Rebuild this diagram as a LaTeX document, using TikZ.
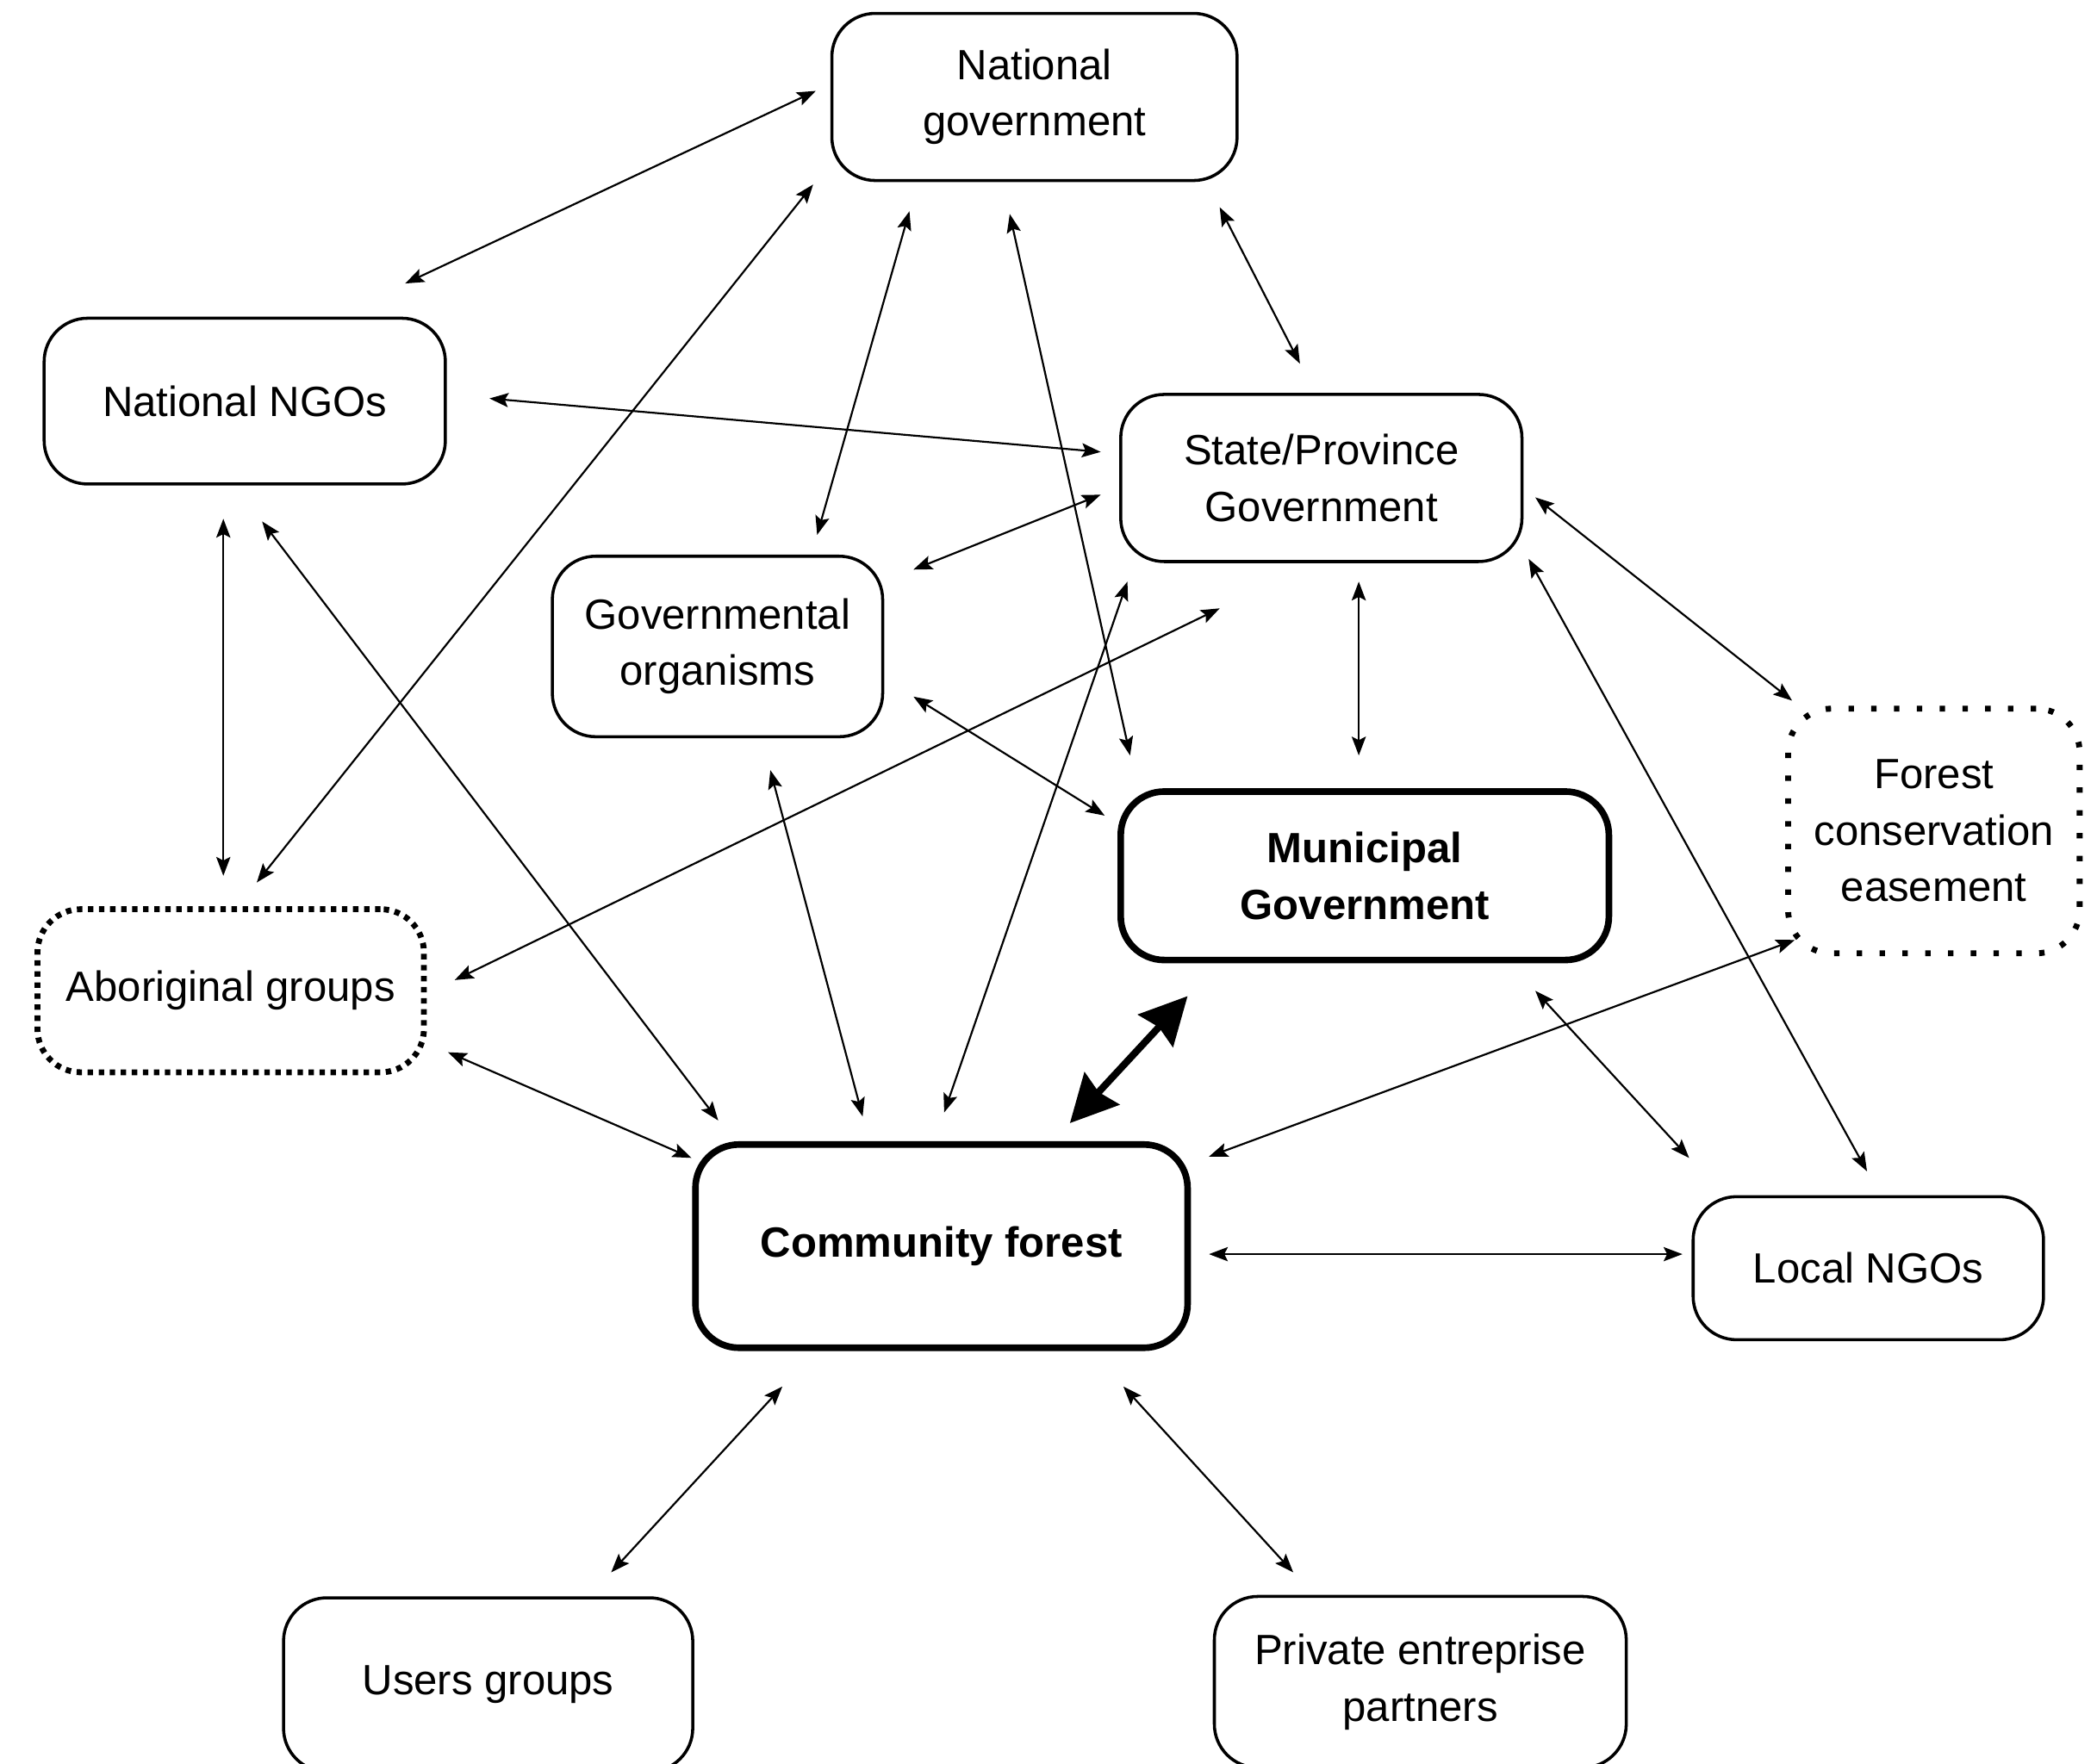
\documentclass[tikz,border=0pt]{standalone}
\usepackage{fontspec}
\setmainfont{Liberation Sans}
\usetikzlibrary{arrows.meta,calc}
\newcommand{\dfont}{\fontsize{18}{24}\selectfont}
\tikzset{
  box/.style={draw, rounded corners=0.65cm, line width=1.3pt, align=center, font=\dfont, inner sep=0pt},
  boldbox/.style={box, line width=2.8pt, font=\dfont\bfseries},
  dotbox/.style={box, line width=2.5pt, dash pattern=on 2.3pt off 2.4pt},
  sparsebox/.style={box, line width=2.5pt, dash pattern=on 2.3pt off 7.4pt},
  arr/.style={{Stealth[length=8pt,width=6pt,inset=1.5pt]}-{Stealth[length=8pt,width=6pt,inset=1.5pt]}, line width=0.8pt},
  bigarr/.style={{Stealth[length=20pt,width=20pt,inset=2pt]}-{Stealth[length=20pt,width=20pt,inset=2pt]}, line width=3pt}
}
\begin{document}
\begin{tikzpicture}[x=0.02cm, y=-0.02cm]
\useasboundingbox (0,0) rectangle (1568,1319);
\clip (0,0) rectangle (1568,1319);
\fill[white] (0,0) rectangle (1568,1319);

\node[box, minimum width=303*0.02cm, minimum height=125*0.02cm] (ng) at (773.5,72.5) {National\\government};
\node[box, minimum width=300*0.02cm, minimum height=124*0.02cm] (nngo) at (183,300) {National NGOs};
\node[box, minimum width=300*0.02cm, minimum height=125*0.02cm] (state) at (988,357.5) {State/Province\\Government};
\node[box, minimum width=247*0.02cm, minimum height=135*0.02cm] (gov) at (536.5,483.5) {Governmental\\organisms};
\node[sparsebox, minimum width=218*0.02cm, minimum height=183*0.02cm] (fce) at (1446,621.5) {Forest\\conservation\\easement};
\node[boldbox, minimum width=365*0.02cm, minimum height=126*0.02cm] (mun) at (1020.5,655) {Municipal\\Government};
\node[dotbox, minimum width=289*0.02cm, minimum height=122*0.02cm] (abo) at (172.5,741) {Aboriginal groups};
\node[boldbox, minimum width=368*0.02cm, minimum height=152*0.02cm] (cf) at (704,932) {Community forest};
\node[box, minimum width=262*0.02cm, minimum height=107*0.02cm] (lngo) at (1397,948.5) {Local NGOs};
\node[box, minimum width=306*0.02cm, minimum height=130*0.02cm] (ug) at (365,1260) {Users groups};
\node[box, minimum width=308*0.02cm, minimum height=128*0.02cm] (pep) at (1062,1258) {Private entreprise\\partners};

\draw[arr] ($(ng)+(-163.5,-4.5)$) -- ($(nngo)+(120,-88)$);
\draw[arr] ($(ng)+(-165.5,65.5)$) -- ($(abo)+(19.5,-81)$);
\draw[arr] ($(ng)+(-93.5,85.5)$) -- ($(gov)+(74.5,-83.5)$);
\draw[arr] ($(ng)+(-18.5,87.5)$) -- ($(mun)+(-175.5,-90)$);
\draw[arr] ($(ng)+(138.5,82.5)$) -- ($(state)+(-16,-85.5)$);
\draw[arr] ($(nngo)+(183,-2)$) -- ($(state)+(-165,-19.5)$);
\draw[arr] ($(nngo)+(-16,88)$) -- ($(abo)+(-5.5,-86)$);
\draw[arr] ($(nngo)+(13,90)$) -- ($(cf)+(-167,-94)$);
\draw[arr] ($(state)+(-165,12.5)$) -- ($(gov)+(146.5,-57.5)$);
\draw[arr] ($(state)+(-76,97.5)$) -- ($(abo)+(167.5,-8)$);
\draw[arr] ($(state)+(28,77.5)$) -- ($(mun)+(-4.5,-90)$);
\draw[arr] ($(state)+(-145,77.5)$) -- ($(cf)+(2,-100)$);
\draw[arr] ($(state)+(160,14.5)$) -- ($(fce)+(-106,-97.5)$);
\draw[arr] ($(state)+(155,60.5)$) -- ($(lngo)+(-1,-72.5)$);
\draw[arr] ($(gov)+(146.5,37.5)$) -- ($(mun)+(-194.5,-45)$);
\draw[arr] ($(gov)+(39.5,92.5)$) -- ($(cf)+(-59,-97)$);
\draw[arr] ($(abo)+(162.5,46)$) -- ($(cf)+(-187,-66)$);
\draw[bigarr] ($(mun)+(-132.5,90)$) -- ($(cf)+(96,-92)$);
\draw[arr] ($(mun)+(127.5,86)$) -- ($(lngo)+(-134,-82.5)$);
\draw[arr] ($(fce)+(-104,81.5)$) -- ($(cf)+(200,-67)$);
\draw[arr] ($(cf)+(200,6)$) -- ($(lngo)+(-139,-10.5)$);
\draw[arr] ($(cf)+(-119,105)$) -- ($(ug)+(92,-84)$);
\draw[arr] ($(cf)+(136,105)$) -- ($(pep)+(-95,-82)$);
\end{tikzpicture}
\end{document}
